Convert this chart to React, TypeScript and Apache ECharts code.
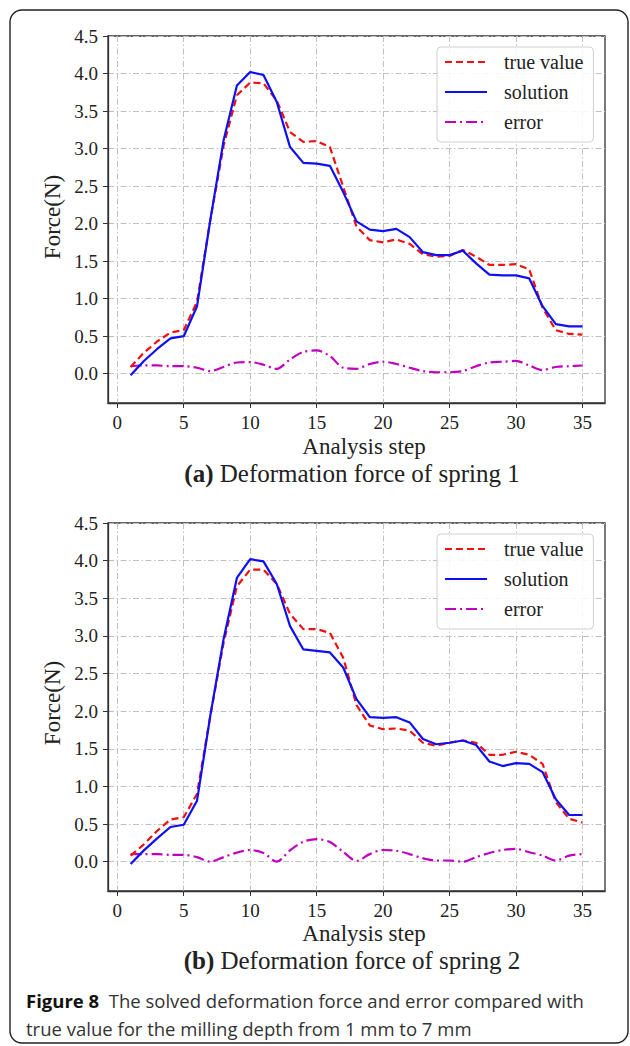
import React, { useEffect, useRef } from "react";
import * as echarts from "echarts";

const steps = [1, 2, 3, 4, 5, 6, 7, 8, 9, 10, 11, 12, 13, 14, 15, 16, 17, 18, 19, 20, 21, 22, 23, 24, 25, 26, 27, 28, 29, 30, 31, 32, 33, 34, 35];

const trueValue1 = [0.09, 0.28, 0.43, 0.55, 0.58, 0.96, 2.05, 3.04, 3.71, 3.88, 3.87, 3.64, 3.22, 3.09, 3.1, 3.02, 2.49, 1.96, 1.78, 1.75, 1.79, 1.73, 1.59, 1.56, 1.57, 1.65, 1.56, 1.45, 1.45, 1.46, 1.39, 0.88, 0.58, 0.53, 0.52];
const solution1 = [-0.02, 0.17, 0.33, 0.47, 0.5, 0.9, 2.05, 3.11, 3.84, 4.02, 3.98, 3.62, 3.02, 2.81, 2.8, 2.77, 2.42, 2.03, 1.92, 1.9, 1.93, 1.82, 1.62, 1.58, 1.58, 1.64, 1.47, 1.32, 1.31, 1.31, 1.27, 0.9, 0.66, 0.63, 0.63];
const error1 = [0.1, 0.11, 0.11, 0.1, 0.1, 0.08, 0.035, 0.09, 0.15, 0.155, 0.12, 0.065, 0.19, 0.29, 0.31, 0.235, 0.08, 0.066, 0.13, 0.16, 0.13, 0.08, 0.035, 0.02, 0.02, 0.035, 0.1, 0.15, 0.16, 0.17, 0.11, 0.05, 0.09, 0.1, 0.11];

const trueValue2 = [0.08, 0.23, 0.41, 0.56, 0.59, 0.9, 1.94, 2.91, 3.66, 3.88, 3.88, 3.69, 3.29, 3.09, 3.09, 3.04, 2.71, 2.08, 1.81, 1.76, 1.77, 1.74, 1.58, 1.54, 1.58, 1.61, 1.58, 1.42, 1.42, 1.46, 1.42, 1.3, 0.79, 0.57, 0.52];
const solution2 = [-0.03, 0.15, 0.31, 0.46, 0.49, 0.81, 1.94, 2.96, 3.77, 4.02, 3.99, 3.69, 3.13, 2.82, 2.8, 2.78, 2.58, 2.16, 1.92, 1.91, 1.92, 1.85, 1.63, 1.56, 1.58, 1.61, 1.55, 1.33, 1.27, 1.31, 1.3, 1.19, 0.83, 0.62, 0.62];
const error2 = [0.1, 0.1, 0.1, 0.09, 0.09, 0.06, 0.0, 0.06, 0.12, 0.155, 0.115, 0.0, 0.15, 0.265, 0.3, 0.26, 0.13, 0.01, 0.1, 0.155, 0.145, 0.1, 0.045, 0.015, 0.015, 0.0, 0.06, 0.115, 0.155, 0.17, 0.125, 0.08, 0.015, 0.08, 0.1];

const xTicks = [0, 5, 10, 15, 20, 25, 30, 35];
const yTicks = [0, 0.5, 1, 1.5, 2, 2.5, 3, 3.5, 4, 4.5];
const seriesNames = ["true value", "solution", "error"];

const SERIF = "Liberation Serif, serif";
const SANS = "Open Sans, Noto Sans, sans-serif";

const pairs = (ys: number[]) => steps.map((s, i) => [s, ys[i]]);

export default function App() {
  const ref = useRef<HTMLDivElement>(null);
  useEffect(() => {
    if (!ref.current) return;
    const chart = echarts.init(ref.current, null, { renderer: "svg" });
    const gridLine = { color: "#c0c0c0", width: 1, type: [6, 2.5, 1.5, 2.5] };
    const mkX = (gi: number) => ({
      type: "value",
      gridIndex: gi,
      min: -0.7,
      max: 36.7,
      axisLine: { show: true, onZero: false, lineStyle: { color: "#333", width: 1.3 } },
      axisTick: { show: true, length: 5, customValues: xTicks, lineStyle: { color: "#333", width: 1 } },
      axisLabel: { customValues: xTicks, margin: 10, color: "#222", fontSize: 19, fontFamily: SERIF },
      splitLine: { show: true, lineStyle: gridLine },
    });
    const mkY = (gi: number) => ({
      type: "value",
      gridIndex: gi,
      min: -0.39,
      max: 4.5,
      axisLine: { show: true, onZero: false, lineStyle: { color: "#333", width: 1.3 } },
      axisTick: { show: true, length: 5, customValues: yTicks, lineStyle: { color: "#333", width: 1 } },
      axisLabel: {
        customValues: yTicks,
        margin: 10,
        fontSize: 19,
        fontFamily: SERIF,
        color: "#222",
        formatter: (v: number) => v.toFixed(1),
      },
      splitLine: { show: true, lineStyle: gridLine },
    });
    const mkSeries = (gi: number, tv: number[], so: number[], er: number[]) => [
      {
        name: seriesNames[0], type: "line", xAxisIndex: gi, yAxisIndex: gi, data: pairs(tv),
        symbol: "none", lineStyle: { color: "#f01010", width: 2.2, type: [7, 4] }, itemStyle: { color: "#f01010" }, z: 3,
      },
      {
        name: seriesNames[1], type: "line", xAxisIndex: gi, yAxisIndex: gi, data: pairs(so),
        symbol: "none", lineStyle: { color: "#0f0ff5", width: 2.2 }, itemStyle: { color: "#0f0ff5" }, z: 4,
      },
      {
        name: seriesNames[2], type: "line", xAxisIndex: gi, yAxisIndex: gi, data: pairs(er), smooth: 0.3,
        symbol: "none", lineStyle: { color: "#bf00bf", width: 2.2, type: [11, 4, 2, 4] }, itemStyle: { color: "#bf00bf" }, z: 2,
      },
    ];
    const mkLegend = (top: number) => ({
      orient: "vertical",
      left: 437,
      top,
      data: seriesNames,
      itemWidth: 42,
      itemHeight: 14,
      itemGap: 10,
      padding: [5, 10, 10, 7],
      backgroundColor: "rgba(255,255,255,0.85)",
      borderColor: "#d0d0d0",
      borderWidth: 1,
      borderRadius: 4,
      selectedMode: false,
      itemStyle: { opacity: 0, borderWidth: 0 },
      textStyle: { fontFamily: SERIF, fontSize: 20, color: "#222", lineHeight: 20, padding: [0, 0, 0, 12] },
    });
    const txt = (x: number, y: number, text: string, size: number, rotation = 0) => ({
      type: "text",
      x,
      y,
      rotation,
      style: { text, fontSize: size, fontFamily: SERIF, fill: "#222", align: "center", verticalAlign: "middle" },
      silent: true,
    });
    const caption = (x: number, y: number, text: string) => ({
      type: "text",
      x,
      y,
      silent: true,
      style: {
        text,
        fontSize: 25, fontFamily: SERIF, fill: "#222", align: "center", verticalAlign: "middle",
        rich: { b: { fontWeight: "bold", fontSize: 25, fontFamily: SERIF, fill: "#222" } },
      },
    });
    const option: any = {
      animation: false,
      backgroundColor: "#fff",
      textStyle: { fontFamily: SERIF },
      grid: [
        { left: 108, top: 36, width: 497, height: 367, show: true, borderColor: "#333", borderWidth: 1.3, backgroundColor: "transparent" },
        { left: 108, top: 523, width: 497, height: 368, show: true, borderColor: "#333", borderWidth: 1.3, backgroundColor: "transparent" },
      ],
      xAxis: [mkX(0), mkX(1)],
      yAxis: [mkY(0), mkY(1)],
      legend: [mkLegend(47), mkLegend(534)],
      series: [...mkSeries(0, trueValue1, solution1, error1), ...mkSeries(1, trueValue2, solution2, error2)],
      graphic: [
        {
          type: "rect",
          shape: { x: 10, y: 10, width: 618, height: 1033, r: 12 },
          style: { fill: "none", stroke: "#222", lineWidth: 1.4 },
          silent: true,
        },
        txt(52, 217, "Force(N)", 23, Math.PI / 2),
        txt(52, 703, "Force(N)", 23, Math.PI / 2),
        txt(364, 446, "Analysis step", 23),
        txt(364, 933, "Analysis step", 23),
        caption(352, 473, "{b|(a)} Deformation force of spring 1"),
        caption(352, 960, "{b|(b)} Deformation force of spring 2"),
        {
          type: "text",
          x: 26,
          y: 1000,
          silent: true,
          style: {
            text: "{b|Figure 8}  The solved deformation force and error compared with",
            fontSize: 18.5, fontFamily: SANS, fill: "#333", align: "left", verticalAlign: "middle",
            rich: { b: { fontWeight: "bold", fontSize: 18.5, fontFamily: SANS, fill: "#111" } },
          },
        },
        {
          type: "text",
          x: 26,
          y: 1028,
          silent: true,
          style: {
            text: "true value for the milling depth from 1 mm to 7 mm",
            fontSize: 18.5, fontFamily: SANS, fill: "#333", align: "left", verticalAlign: "middle",
          },
        },
      ],
    };
    chart.setOption(option);
    return () => chart.dispose();
  }, []);
  return <div ref={ref} style={{ position: "absolute", left: 0, top: 0, width: 630, height: 1046 }} />;
}
